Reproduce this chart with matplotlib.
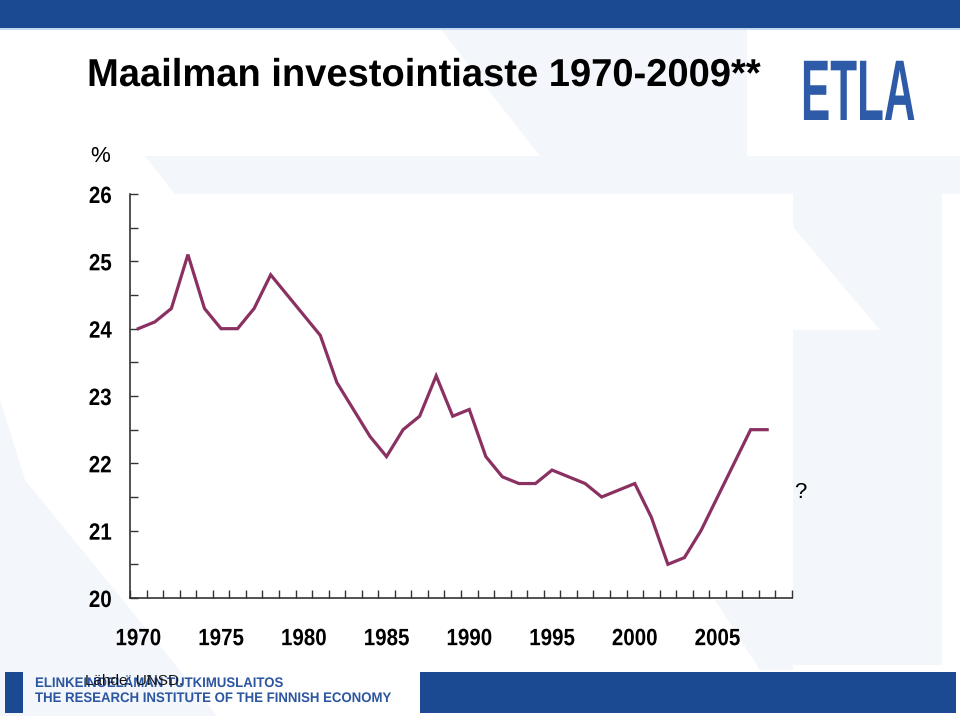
import numpy as np
import matplotlib
matplotlib.use("Agg")
import matplotlib.pyplot as plt
from matplotlib.patches import Polygon, Rectangle
from matplotlib.patheffects import AbstractPathEffect
from matplotlib.transforms import Affine2D
from matplotlib.ticker import FixedLocator, MultipleLocator, NullFormatter

# ---------------------------------------------------------------------------
# Data
# ---------------------------------------------------------------------------
years = list(range(1970, 2010))          # 40 categories, 2009 has no value
rate = [24.0, 24.1, 24.3, 25.1, 24.3, 24.0, 24.0, 24.3, 24.8, 24.5,
        24.2, 23.9, 23.2, 22.8, 22.4, 22.1, 22.5, 22.7, 23.3, 22.7,
        22.8, 22.1, 21.8, 21.7, 21.7, 21.9, 21.8, 21.7, 21.5, 21.6,
        21.7, 21.2, 20.5, 20.6, 21.0, 21.5, 22.0, 22.5, 22.5]
year_labels = ["1970", "1975", "1980", "1985", "1990", "1995", "2000", "2005"]
y_ticks = [20, 21, 22, 23, 24, 25, 26]

TITLE = "Maailman investointiaste 1970-2009**"
SOURCE = "Lähde: UNSD."
INST_FI = "ELINKEINOELÄMÄN TUTKIMUSLAITOS"
INST_EN = "THE RESEARCH INSTITUTE OF THE FINNISH ECONOMY"

# ---------------------------------------------------------------------------
# Style
# ---------------------------------------------------------------------------
W, H = 960, 716
BLUE = "#1B4A93"
LOGO_BLUE = "#2E5BA7"
TEXT_BLUE = "#2C56A0"
FAINT = "#F3F6FA"
LINE = "#8A3162"

plt.rcParams["font.family"] = ["Liberation Sans", "DejaVu Sans"]


class Squeeze(AbstractPathEffect):
    """Draw text condensed (and optionally taller) while keeping it real text."""

    def __init__(self, sx, anchor="center", sy=1.0):
        super().__init__()
        self.sx = sx
        self.sy = sy
        self.anchor = anchor

    def draw_path(self, renderer, gc, tpath, affine, rgbFace=None):
        bb = tpath.get_extents(affine)
        cx = {"left": bb.x0, "right": bb.x1}.get(self.anchor, 0.5 * (bb.x0 + bb.x1))
        cy = bb.y0
        t = affine + (Affine2D().translate(-cx, -cy)
                      .scale(self.sx, self.sy).translate(cx, cy))
        renderer.draw_path(gc, tpath, t, rgbFace)


fig = plt.figure(figsize=(W / 100, H / 100), dpi=100)
fig.patch.set_facecolor("white")


def fx(x):
    return x / W


def fy(y):
    return 1 - y / H


def poly(pts, color, z=0):
    fig.patches.append(Polygon([(fx(x), fy(y)) for x, y in pts], closed=True,
                               transform=fig.transFigure, facecolor=color,
                               edgecolor="none", zorder=z))


def rect(x0, y0, x1, y1, color, z=1):
    fig.patches.append(Rectangle((fx(x0), fy(y1)), fx(x1) - fx(x0), fy(y0) - fy(y1),
                                 transform=fig.transFigure, facecolor=color,
                                 edgecolor="none", zorder=z))


# faint background shapes
poly([(440, 28), (747, 28), (747, 156), (540, 156)], FAINT)
poly([(145, 156), (960, 156), (960, 194), (175, 194)], FAINT)
poly([(700, 130), (747, 130), (747, 194), (700, 194)], FAINT)
poly([(793, 194), (942, 194), (942, 665), (793, 665)], FAINT)
poly([(793, 227), (880, 330), (793, 330)], "white", z=0.5)
poly([(0, 400), (25, 480), (217, 716), (0, 716)], FAINT)
poly([(715, 600), (793, 600), (793, 670), (760, 670)], FAINT)

# top banner and bottom bars
rect(0, 0, W, 28, BLUE, z=2)
rect(0, 28, W, 30, "#C5DAF0", z=2)
rect(5, 672, 23, 713, BLUE, z=2)
rect(420, 672, 956, 713, BLUE, z=2)

# ---------------------------------------------------------------------------
# Chart
# ---------------------------------------------------------------------------
ax = fig.add_axes([fx(130), fy(598), fx(792) - fx(130), fy(194) - fy(598)])
ax.set_facecolor("none")
ax.set_zorder(3)

x = np.arange(len(rate))
ax.plot(x, rate, color=LINE, linewidth=2.3, solid_joinstyle="miter", zorder=3)

ax.set_xlim(-0.5, len(years) - 0.5)
ax.set_ylim(20, 26)

for side in ["top", "right"]:
    ax.spines[side].set_visible(False)
for side in ["left", "bottom"]:
    ax.spines[side].set_color("#333333")
    ax.spines[side].set_linewidth(1.2)

# x: tick marks at category boundaries, labels every 5 years
ax.xaxis.set_minor_locator(FixedLocator(np.arange(-0.5, len(years), 1.0)))
ax.xaxis.set_minor_formatter(NullFormatter())
ax.set_xticks([years.index(int(y)) for y in year_labels])
ax.set_xticklabels(year_labels)
ax.tick_params(axis="x", which="major", length=0, pad=21)
ax.tick_params(axis="x", which="minor", direction="in", length=6,
               width=1.0, color="#333333")

# y: integer labels, half-step tick marks
ax.set_yticks(y_ticks)
ax.yaxis.set_minor_locator(MultipleLocator(0.5))
ax.tick_params(axis="y", which="both", direction="in", length=6,
               width=1.0, color="#333333")
ax.tick_params(axis="y", which="major", pad=13)

for lab in ax.get_xticklabels():
    lab.set_fontsize(17)
    lab.set_fontweight("bold")
    lab.set_path_effects([Squeeze(0.87, "center")])
for lab in ax.get_yticklabels():
    lab.set_fontsize(17)
    lab.set_fontweight("bold")
    lab.set_path_effects([Squeeze(0.87, "right")])

# ---------------------------------------------------------------------------
# Texts
# ---------------------------------------------------------------------------
fig.text(fx(87), fy(76), TITLE, fontsize=28, fontweight="bold",
         va="center", ha="left", zorder=5,
         path_effects=[Squeeze(0.98, "left")])
fig.text(fx(100), fy(157), "%", fontsize=16, va="center", ha="center", zorder=5)
fig.text(fx(800), fy(492), "?", fontsize=16, va="center", ha="center", zorder=5)

# logo: tall, tightly condensed letters
fig.text(fx(858), fy(120), "ETLA", fontsize=40, fontweight="bold", color=LOGO_BLUE,
         va="baseline", ha="center", zorder=5,
         path_effects=[Squeeze(0.79, "center", sy=1.55)])

fig.text(fx(35), fy(683), INST_FI, fontsize=10, fontweight="bold",
         color=TEXT_BLUE, va="center", ha="left", zorder=5,
         path_effects=[Squeeze(0.95, "left")])
fig.text(fx(35), fy(698), INST_EN, fontsize=10, fontweight="bold",
         color=TEXT_BLUE, va="center", ha="left", zorder=5,
         path_effects=[Squeeze(0.95, "left")])
fig.text(fx(85), fy(681), SOURCE, fontsize=11, color="#111111",
         va="center", ha="left", zorder=6)

fig.savefig("out.png", dpi=100)
